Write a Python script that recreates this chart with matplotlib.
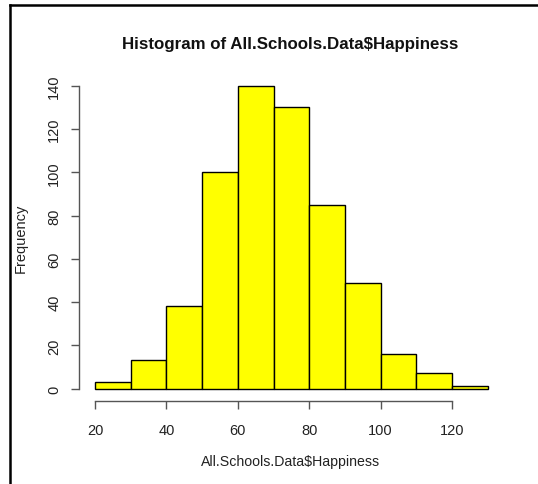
import numpy as np
import matplotlib.pyplot as plt
from matplotlib.lines import Line2D

plt.rcParams['font.family'] = ['Liberation Sans', 'DejaVu Sans']

# histogram of happiness scores, 10-point bins
bin_edges = [20, 30, 40, 50, 60, 70, 80, 90, 100, 110, 120, 130]
counts = [3, 13, 38, 100, 140, 130, 85, 49, 16, 7, 1]
x_ticks = [20, 40, 60, 80, 100, 120]
y_ticks = [0, 20, 40, 60, 80, 100, 120, 140]

W, H = 538, 485
fig = plt.figure(figsize=(W / 100, H / 100), dpi=100)
fig.patch.set_facecolor('white')

# plot region in pixels (R-style 4% padding around the data range)
left, right, top, bottom = 79.3, 503.4, 74.7, 401.7
ax = fig.add_axes([left / W, (H - bottom) / H, (right - left) / W, (bottom - top) / H])

lefts = np.array(bin_edges[:-1])
widths = np.diff(bin_edges)
ax.bar(lefts, counts, width=widths, align='edge', color='#ffff00',
       edgecolor='black', linewidth=1.0)

xr = bin_edges[-1] - bin_edges[0]
ax.set_xlim(bin_edges[0] - 0.04 * xr, bin_edges[-1] + 0.04 * xr)
ym = max(counts)
ax.set_ylim(-0.04 * ym, 1.04 * ym)

for side in ['top', 'right']:
    ax.spines[side].set_visible(False)
for side in ['left', 'bottom']:
    ax.spines[side].set_color('#555555')
    ax.spines[side].set_linewidth(1.0)
ax.spines['left'].set_bounds(y_ticks[0], y_ticks[-1])
ax.spines['bottom'].set_bounds(x_ticks[0], x_ticks[-1])

ax.set_xticks(x_ticks)
ax.set_yticks(y_ticks)
ax.set_xticklabels([str(v) for v in x_ticks])
ax.set_yticklabels([str(v) for v in y_ticks], rotation=90, va='center')
ax.tick_params(axis='both', direction='out', length=6, width=1.0,
               color='#555555', labelcolor='#222222', labelsize=10.5)
ax.tick_params(axis='x', pad=10)
ax.tick_params(axis='y', pad=7)

fig.text(290.5 / W, 1 - 44 / H, 'Histogram of All.Schools.Data$Happiness',
         ha='center', va='center', fontsize=12.2, fontweight='bold', color='#111111')
fig.text(290.5 / W, 1 - 462 / H, 'All.Schools.Data$Happiness',
         ha='center', va='center', fontsize=10.2, color='#222222')
fig.text(21 / W, 1 - 238.5 / H, 'Frequency', rotation=90,
         ha='center', va='center', fontsize=10.5, color='#222222')

# window frame lines along the left and top edges
fig.add_artist(Line2D([9.5 / W, 9.5 / W], [0, 1 - 6 / H], transform=fig.transFigure,
                      color='black', linewidth=1.8))
fig.add_artist(Line2D([9.5 / W, 1], [1 - 6 / H, 1 - 6 / H], transform=fig.transFigure,
                      color='black', linewidth=1.8))

fig.savefig('out.png', dpi=100)
